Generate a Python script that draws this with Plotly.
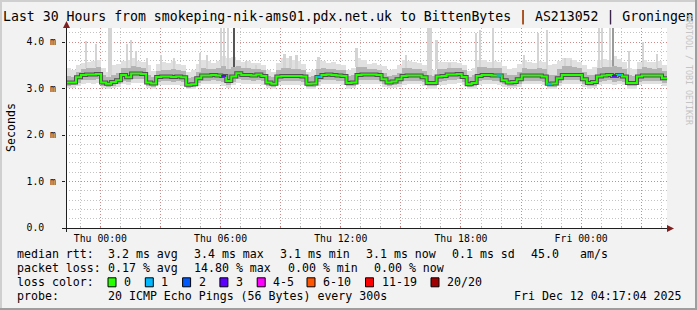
import plotly.graph_objects as go
from datetime import datetime, timedelta

# ---------------- data ----------------
start_time = datetime(2025, 12, 10, 22, 17, 4)
end_time = datetime(2025, 12, 12, 4, 17, 4)
step_minutes = 15

median_ms = [
    3.13, 3.13, 3.24, 3.29, 3.30, 3.30, 3.31, 3.13, 3.10, 3.14,
    3.18, 3.29, 3.24, 3.32, 3.32, 3.31, 3.13, 3.11, 3.25, 3.26,
    3.26, 3.25, 3.26, 3.24, 3.08, 3.09, 3.22, 3.28, 3.28, 3.29,
    3.28, 3.27, 3.16, 3.26, 3.33, 3.29, 3.29, 3.28, 3.30, 3.27,
    3.13, 3.10, 3.26, 3.27, 3.27, 3.27, 3.27, 3.26, 3.10, 3.11,
    3.25, 3.29, 3.30, 3.29, 3.28, 3.27, 3.12, 3.13, 3.29, 3.30,
    3.30, 3.30, 3.29, 3.20, 3.13, 3.15, 3.20, 3.27, 3.28, 3.28,
    3.28, 3.24, 3.12, 3.12, 3.26, 3.27, 3.30, 3.30, 3.31, 3.25,
    3.09, 3.12, 3.27, 3.29, 3.29, 3.28, 3.28, 3.18, 3.13, 3.14,
    3.20, 3.28, 3.28, 3.28, 3.28, 3.26, 3.10, 3.11, 3.22, 3.29,
    3.29, 3.29, 3.29, 3.20, 3.12, 3.14, 3.26, 3.28, 3.29, 3.27,
    3.29, 3.26, 3.12, 3.12, 3.26, 3.28, 3.28, 3.28, 3.28, 3.22,
]

smoke_min_ms = [
    3.01, 3.02, 3.05, 3.10, 3.11, 3.10, 3.12, 3.02, 2.99, 3.01,
    3.04, 3.09, 3.08, 3.12, 3.12, 3.11, 3.01, 3.00, 3.07, 3.08,
    3.08, 3.07, 3.08, 3.06, 2.98, 2.99, 3.05, 3.09, 3.09, 3.10,
    3.09, 3.06, 3.02, 3.08, 3.12, 3.10, 3.10, 3.09, 3.10, 3.08,
    3.01, 2.99, 3.07, 3.08, 3.08, 3.08, 3.08, 3.07, 2.99, 3.00,
    3.06, 3.10, 3.10, 3.10, 3.09, 3.08, 3.00, 3.01, 3.09, 3.10,
    3.10, 3.10, 3.10, 3.04, 3.01, 3.02, 3.04, 3.08, 3.09, 3.09,
    3.09, 3.06, 3.00, 3.00, 3.07, 3.08, 3.10, 3.10, 3.11, 3.07,
    2.99, 3.00, 3.08, 3.09, 3.09, 3.09, 3.08, 3.03, 3.01, 3.01,
    3.04, 3.09, 3.09, 3.09, 3.09, 3.07, 2.99, 3.00, 3.05, 3.09,
    3.09, 3.09, 3.09, 3.04, 3.00, 3.01, 3.07, 3.09, 3.09, 3.07,
    3.09, 3.07, 3.00, 3.00, 3.07, 3.09, 3.09, 3.09, 3.09, 3.05,
]

smoke_lo_ms = [
    3.06, 3.07, 3.12, 3.18, 3.19, 3.19, 3.20, 3.06, 3.03, 3.06,
    3.09, 3.17, 3.15, 3.20, 3.21, 3.20, 3.06, 3.04, 3.15, 3.16,
    3.16, 3.15, 3.16, 3.14, 3.02, 3.03, 3.12, 3.17, 3.17, 3.18,
    3.17, 3.14, 3.08, 3.15, 3.20, 3.18, 3.18, 3.17, 3.19, 3.16,
    3.06, 3.03, 3.15, 3.16, 3.16, 3.16, 3.16, 3.15, 3.03, 3.04,
    3.14, 3.18, 3.19, 3.18, 3.17, 3.16, 3.05, 3.06, 3.18, 3.19,
    3.19, 3.19, 3.18, 3.10, 3.06, 3.07, 3.10, 3.16, 3.17, 3.17,
    3.17, 3.14, 3.05, 3.05, 3.15, 3.16, 3.19, 3.19, 3.20, 3.15,
    3.03, 3.05, 3.16, 3.18, 3.18, 3.17, 3.16, 3.09, 3.06, 3.06,
    3.10, 3.17, 3.17, 3.17, 3.17, 3.15, 3.03, 3.04, 3.12, 3.18,
    3.18, 3.18, 3.18, 3.10, 3.05, 3.06, 3.15, 3.17, 3.18, 3.15,
    3.17, 3.15, 3.05, 3.05, 3.15, 3.17, 3.17, 3.17, 3.17, 3.12,
]

smoke_hi_ms = [
    3.26, 3.25, 3.36, 3.42, 3.44, 3.45, 3.46, 3.28, 3.24, 3.30,
    3.34, 3.45, 3.44, 3.48, 3.46, 3.44, 3.30, 3.25, 3.38, 3.40,
    3.40, 3.42, 3.40, 3.38, 3.22, 3.24, 3.36, 3.44, 3.42, 3.42,
    3.44, 3.48, 3.42, 3.46, 3.48, 3.44, 3.44, 3.42, 3.42, 3.40,
    3.26, 3.24, 3.40, 3.44, 3.44, 3.42, 3.42, 3.40, 3.24, 3.26,
    3.42, 3.44, 3.42, 3.42, 3.40, 3.40, 3.26, 3.28, 3.46, 3.46,
    3.42, 3.42, 3.40, 3.34, 3.26, 3.28, 3.34, 3.44, 3.44, 3.42,
    3.42, 3.38, 3.28, 3.26, 3.42, 3.42, 3.44, 3.44, 3.44, 3.40,
    3.24, 3.28, 3.46, 3.46, 3.44, 3.44, 3.44, 3.34, 3.28, 3.28,
    3.36, 3.44, 3.42, 3.42, 3.44, 3.42, 3.28, 3.30, 3.42, 3.48,
    3.48, 3.46, 3.44, 3.36, 3.28, 3.30, 3.44, 3.46, 3.46, 3.48,
    3.46, 3.42, 3.28, 3.26, 3.42, 3.46, 3.44, 3.42, 3.44, 3.38,
]

smoke_max_ms = [
    3.45, 3.40, 3.50, 3.55, 3.58, 3.60, 3.62, 3.45, 3.35, 3.50,
    3.52, 3.60, 3.62, 3.66, 3.60, 3.56, 3.50, 3.38, 3.52, 3.58,
    3.54, 3.60, 3.52, 3.50, 3.36, 3.40, 3.52, 3.62, 3.60, 3.55,
    3.60, 3.70, 3.65, 3.68, 3.62, 3.58, 3.60, 3.55, 3.55, 3.50,
    3.40, 3.35, 3.55, 3.65, 3.66, 3.62, 3.60, 3.52, 3.36, 3.40,
    3.62, 3.60, 3.55, 3.56, 3.52, 3.50, 3.40, 3.45, 3.65, 3.62,
    3.52, 3.55, 3.50, 3.48, 3.40, 3.42, 3.50, 3.62, 3.60, 3.56,
    3.55, 3.50, 3.45, 3.40, 3.58, 3.56, 3.58, 3.56, 3.55, 3.50,
    3.38, 3.45, 3.62, 3.62, 3.58, 3.60, 3.58, 3.48, 3.42, 3.44,
    3.52, 3.62, 3.56, 3.55, 3.60, 3.56, 3.50, 3.52, 3.60, 3.65,
    3.66, 3.62, 3.58, 3.50, 3.42, 3.46, 3.62, 3.64, 3.62, 3.70,
    3.64, 3.56, 3.45, 3.42, 3.58, 3.62, 3.58, 3.56, 3.60, 3.50,
]

# spikes of single pings (hours after start, top in ms)
spike_light_hours = [1.0, 1.5, 2.15, 2.25, 3.04, 3.24, 3.5, 4.04, 4.74, 5.39, 6.68, 7.03,
                     7.75, 7.9, 8.1, 8.98, 9.48, 10.9, 11.2, 11.5, 12.6, 14.5,
                     16.96, 18.1, 18.22, 18.5, 19.15, 20.45, 20.65, 21.3, 22.85, 23.55,
                     24.0, 24.9, 25.2, 26.6, 26.75, 27.15, 28.1, 28.8, 29.5]
spike_light_top = [4.02, 3.95, 4.40, 4.40, 3.95, 4.04, 3.80, 3.65, 3.72, 3.65, 3.76, 3.72,
                   4.40, 4.40, 4.40, 3.60, 3.50, 3.74, 3.70, 3.72, 3.68, 3.88,
                   3.72, 4.40, 4.40, 4.04, 3.55, 4.20, 4.25, 4.40, 3.72, 4.20,
                   4.25, 3.65, 3.62, 4.40, 4.40, 4.40, 3.80, 4.00, 3.75]
spike_mid_hours = [27.3]
spike_mid_top = [4.40]
spike_dark_hours = [8.4]
spike_dark_top = [4.40]

loss_index = [31, 50, 86, 96, 109, 110]
loss_pings = [3, 1, 1, 1, 3, 1]

x_tick_times = [datetime(2025, 12, 11, 0) + timedelta(hours=3 * k) for k in range(10)]
x_tick_labels = ["Thu 00:00", "", "Thu 06:00", "", "Thu 12:00", "", "Thu 18:00", "",
                 "Fri 00:00", ""]
y_tick_values = [0, 1, 2, 3, 4]
y_tick_labels = ["0.0\u00a0\u00a0", "1.0 m", "2.0 m", "3.0 m", "4.0 m"]

title_text = ("Last 30 Hours from smokeping-nik-ams01.pdx.net.uk to BittenBytes | "
              "AS213052 | Groningen")
rtt_labels = ["3.2 ms avg", "3.4 ms max", "3.1 ms min", "3.1 ms now", "0.1 ms sd",
              "45.0", "am/s"]
loss_labels = ["0.17 % avg", "14.80 % max", "0.00 % min", "0.00 % now"]
loss_color_labels = ["0", "1", "2", "3", "4-5", "6-10", "11-19", "20/20"]
loss_color_values = ["#26ff00", "#00b8ff", "#0059ff", "#5e00ff", "#ff00ff",
                     "#ff5500", "#ff0000", "#a10000"]
probe_text = "20 ICMP Echo Pings (56 Bytes) every 300s"
date_text = "Fri Dec 12 04:17:04 2025"

# ---------------- geometry ----------------
W, H = 697, 310
L, R, T, B = 66, 30, 28, 82
PW, PH = W - L - R, H - T - B
MONO = "DejaVu Sans Mono"


def px(x):
    return (x - L) / PW


def py(y):
    return (H - B - y) / PH


step = timedelta(minutes=step_minutes)
times = [start_time + i * step for i in range(len(median_ms))]
centers = [t + step / 2 for t in times]
bar_w = step.total_seconds() * 1000
spike_w = 7 * 60 * 1000

fig = go.Figure()


def band(lo, hi, color, x=centers, width=bar_w):
    fig.add_trace(go.Bar(x=x, y=[h - l for l, h in zip(lo, hi)], base=lo,
                         width=width, marker=dict(color=color, line_width=0),
                         hoverinfo="skip", showlegend=False))


def spikes(hours, tops, color):
    xs = [start_time + timedelta(hours=h) for h in hours]
    bases = [smoke_hi_ms[min(int(h * 60 / step_minutes), len(smoke_hi_ms) - 1)] for h in hours]
    band(bases, tops, color, x=xs, width=spike_w)


band(smoke_min_ms, smoke_max_ms, "#e0e0e0")
spikes(spike_light_hours, spike_light_top, "#d4d4d4")
band(smoke_lo_ms, smoke_hi_ms, "#b4b4b4")
spikes(spike_mid_hours, spike_mid_top, "#9a9a9a")
spikes(spike_dark_hours, spike_dark_top, "#555555")

line_x = times + [end_time]
line_y = median_ms + [median_ms[-1]]
fig.add_trace(go.Scatter(x=line_x, y=line_y, mode="lines", line_shape="hv",
                         line=dict(color="#505050", width=4), hoverinfo="skip",
                         showlegend=False))
fig.add_trace(go.Scatter(x=line_x, y=line_y, mode="lines", line_shape="hv",
                         line=dict(color=loss_color_values[0], width=2),
                         hoverinfo="skip", showlegend=False))

loss_bins = [0, 1, 2, 3, 5, 10, 19, 20]
for idx, cnt in zip(loss_index, loss_pings):
    ci = next(k for k, b in enumerate(loss_bins) if cnt <= b)
    fig.add_trace(go.Scatter(x=[times[idx], times[idx] + step],
                             y=[median_ms[idx], median_ms[idx]], mode="lines",
                             line=dict(color=loss_color_values[ci], width=2),
                             hoverinfo="skip", showlegend=False))

grid_minor = "rgba(143,143,143,0.55)"
grid_major = "rgba(222,79,79,0.5)"

fig.update_layout(
    width=W, height=H, margin=dict(l=L, r=R, t=T, b=B, pad=0),
    paper_bgcolor="#f2f2f2", plot_bgcolor="#ffffff",
    barmode="overlay", bargap=0, showlegend=False,
    font=dict(family=MONO, color="#000000"),
    xaxis=dict(type="date", range=[start_time, end_time], tickvals=x_tick_times,
               ticktext=x_tick_labels, showgrid=True, gridcolor=grid_major,
               griddash="1px,2px", gridwidth=1, ticks="inside", ticklen=2,
               tickcolor=grid_major, tickfont=dict(family=MONO, size=9.8, color="#000"),
               showline=False, zeroline=False, ticklabelstandoff=3,
               minor=dict(dtick=3600000, tick0=datetime(2025, 12, 11, 0), showgrid=True,
                          gridcolor=grid_minor, griddash="1px,2px", ticks="inside",
                          ticklen=2, tickcolor=grid_minor)),
    yaxis=dict(range=[0, PH / 46.5], tickvals=y_tick_values, ticktext=y_tick_labels,
               showgrid=True, gridcolor=grid_major, griddash="1px,2px", gridwidth=1,
               ticks="outside", ticklen=3, tickcolor="#1f1f1f",
               tickfont=dict(family=MONO, size=9.8, color="#000"), showline=False,
               zeroline=False, ticklabelstandoff=4,
               minor=dict(dtick=0.2, tick0=0, showgrid=True, gridcolor=grid_minor,
                          griddash="1px,2px")),
)

shapes = []
# 3D border
shapes.append(dict(type="line", xref="paper", yref="paper", x0=px(0), x1=px(W), y0=py(1), y1=py(1),
                   line=dict(color="#cfcfcf", width=2)))
shapes.append(dict(type="line", xref="paper", yref="paper", x0=px(1), x1=px(1), y0=py(0), y1=py(H),
                   line=dict(color="#cfcfcf", width=2)))
shapes.append(dict(type="line", xref="paper", yref="paper", x0=px(0), x1=px(W), y0=py(H - 1), y1=py(H - 1),
                   line=dict(color="#9e9e9e", width=2)))
shapes.append(dict(type="line", xref="paper", yref="paper", x0=px(W - 1), x1=px(W - 1), y0=py(0), y1=py(H),
                   line=dict(color="#9e9e9e", width=2)))
# axes
ax_y = H - B + 0.5
shapes.append(dict(type="line", xref="paper", yref="paper", x0=px(62), x1=px(668), y0=py(ax_y), y1=py(ax_y),
                   line=dict(color="#1f1f1f", width=1)))
shapes.append(dict(type="line", xref="paper", yref="paper", x0=px(L + 0.5), x1=px(L + 0.5), y0=py(232), y1=py(T - 1),
                   line=dict(color="#1f1f1f", width=1)))
# arrows
shapes.append(dict(type="path", xref="paper", yref="paper",
                   path=f"M {px(667)} {py(ax_y - 3.5)} L {px(674)} {py(ax_y)} L {px(667)} {py(ax_y + 3.5)} Z",
                   fillcolor="#801f1f", line=dict(width=0)))
shapes.append(dict(type="path", xref="paper", yref="paper",
                   path=f"M {px(L + 0.5 - 3.5)} {py(28)} L {px(L + 0.5)} {py(21)} L {px(L + 0.5 + 3.5)} {py(28)} Z",
                   fillcolor="#801f1f", line=dict(width=0)))

annotations = []


def text(x, y, s, size=11.6, xanchor="left", color="#000000", angle=0):
    annotations.append(dict(x=px(x), y=py(y), xref="paper", yref="paper", text=s.replace(" ", "\u00a0"),
                            showarrow=False, xanchor=xanchor, yanchor="middle", textangle=angle,
                            borderpad=0, font=dict(family=MONO, size=size, color=color)))


text(348, 17, title_text, size=13.2, xanchor="center")
text(11, 128, "Seconds", size=11.6, xanchor="center", angle=-90)
text(689, 70, "RRDTOOL / TOBI OETIKER", size=8.3, xanchor="center", color="#c4c4c4", angle=90)

row_y = [254.3, 268.3, 282.3, 296.3]
text(16, row_y[0], "median rtt:")
for xpos, s in zip([107, 193, 279, 365, 451, 530, 579], rtt_labels):
    text(xpos, row_y[0], s)
text(16, row_y[1], "packet loss:")
for xpos, s in zip([107, 193, 287, 372.5], loss_labels):
    text(xpos, row_y[1], s)
text(16, row_y[2], "loss color:")
box_x = [108, 145.3, 182.6, 219.9, 257.2, 307, 365.5, 431]
for bx, lab, col in zip(box_x, loss_color_labels, loss_color_values):
    shapes.append(dict(type="rect", xref="paper", yref="paper", x0=px(bx), x1=px(bx + 8),
                       y0=py(row_y[2] - 4.5), y1=py(row_y[2] + 4.5), fillcolor=col,
                       line=dict(color="#000000", width=1)))
    text(bx + 15, row_y[2], lab)
text(16, row_y[3], "probe:")
text(107, row_y[3], probe_text)
text(513, row_y[3], date_text)

fig.update_layout(shapes=shapes, annotations=annotations)
fig.write_html("out.html")
